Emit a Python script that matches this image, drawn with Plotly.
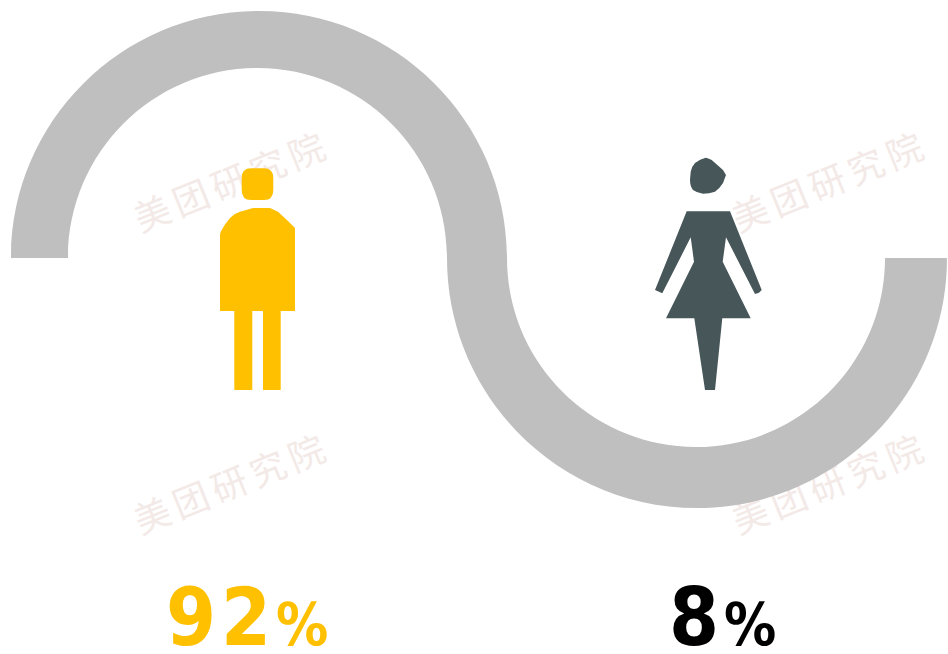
import plotly.graph_objects as go

W, H = 948, 654
# Share labels
categories = ["男", "女"]
share_values = [92, 8]
share_labels = ["92", "8"]
percent_sign = "%"
watermark = "美团研究院"
watermark_centers_x = [231, 829, 231, 829]
watermark_centers_y = [179, 179, 481, 481]

GRAY = "#bfbfbf"
YELLOW = "#ffc000"
SLATE = "#465659"
MARK = "#f3eae8"
K = 0.5523


def half_ring(x0, x1, inner0, inner1, top_out, top_in, base):
    """Half ring path between a base line and the crown of the outer and inner edges."""
    cx, rx = (x0 + x1) / 2, (x1 - x0) / 2
    ix, irx = (inner0 + inner1) / 2, (inner1 - inner0) / 2
    kry = (base - top_out) * K
    ikry = (base - top_in) * K
    a = rx * K
    b = irx * K
    return (f"M{x0},{base} C{x0},{base - kry} {cx - a},{top_out} {cx},{top_out} "
            f"C{cx + a},{top_out} {x1},{base - kry} {x1},{base} L{inner1},{base} "
            f"C{inner1},{base - ikry} {ix + b},{top_in} {ix},{top_in} "
            f"C{ix - b},{top_in} {inner0},{base - ikry} {inner0},{base} Z")


left_arc = half_ring(11, 507, 68, 447, 11, 68, 258)
right_arc = half_ring(447, 947, 507, 885, 508, 447, 258)

man = ("M241.7,178 Q241.7,168.3 251,168.3 L264,168.3 Q273.3,168.3 273.3,178 L273.3,190 Q273.3,200 264,200 "
       "L251,200 Q241.7,200 241.7,190 Z "
       "M220,235 L220.7,231.7 Q224,225 230,218 Q235,213 240,211.7 L253,208 L270,208 L278,211.7 "
       "L288,221 L295,228 L295,311 L280.7,311 L280.7,390 L263,390 L263,311 L252.3,311 L252.3,390 "
       "L234.3,390 L234.3,311 L220,311 Z")
woman = ("M690.7,171.7 Q692,166 695,163 Q700,159 705.7,157.7 Q708,158 711.7,160 L723,170 L726,175 "
         "L723,183 Q720,188 715,191.7 Q709,193.7 703,193.7 Q697,193 693,190 Q690,186 690,180 Z "
         "M686.7,211.3 L730,211.3 L761.7,290 L759,292.7 L755,294 L726,237.3 L722.7,261.7 L750.7,318.3 "
         "L722.3,318.3 L715,390 L705,390 L694.3,318.3 L666,318.3 L694,261.7 L690.7,237.3 L662.3,293.3 L655,290 Z")

fig = go.Figure()
fig.add_trace(go.Scatter(x=[0], y=[0], mode="markers", marker=dict(opacity=0), hoverinfo="skip", showlegend=False))
fig.update_layout(
    width=W, height=H, margin=dict(l=0, r=0, t=0, b=0),
    paper_bgcolor="white", plot_bgcolor="white", showlegend=False,
    xaxis=dict(range=[0, W], visible=False, fixedrange=True),
    yaxis=dict(range=[H, 0], visible=False, fixedrange=True),
    shapes=[
        dict(type="path", path=p, fillcolor=c, line=dict(width=0), xref="x", yref="y")
        for p, c in [(left_arc, GRAY), (right_arc, GRAY), (man, YELLOW), (woman, SLATE)]
    ],
)

for x, y in zip(watermark_centers_x, watermark_centers_y):
    fig.add_annotation(x=x, y=y, text=watermark, showarrow=False, textangle=-22,
                       font=dict(family="Noto Sans CJK SC", size=36, color=MARK), xanchor="center", yanchor="middle")

FONT = "DejaVu Sans Condensed"
for x, label, color in [(221, share_labels[0], YELLOW), (693.5, share_labels[1], "#000000")]:
    fig.add_annotation(x=x, y=617, text=f"{label}", showarrow=False,
                       font=dict(family=FONT, size=80, color=color, weight=700), xanchor="center", yanchor="middle")
for x, color in [(302, YELLOW), (749.5, "#000000")]:
    fig.add_annotation(x=x, y=625, text=percent_sign, showarrow=False,
                       font=dict(family=FONT, size=58, color=color, weight=700), xanchor="center", yanchor="middle")

post = """
document.body.style.margin = '0';
var gd = document.getElementById('{plot_id}');
var above = gd.querySelector('.layer-above');
var anns = gd.querySelectorAll('.annotation');
anns.forEach(function (a, i) {
  var t = a.querySelector('text');
  if (i < 4) {
    if (t) { t.style.letterSpacing = '5.5px'; }
    if (above) { above.parentNode.insertBefore(a, above); }
  } else if (i === 4 && t) {
    t.style.letterSpacing = '5px';
  }
});
"""
fig.write_html("out.html", config=dict(displayModeBar=False), post_script=post)
